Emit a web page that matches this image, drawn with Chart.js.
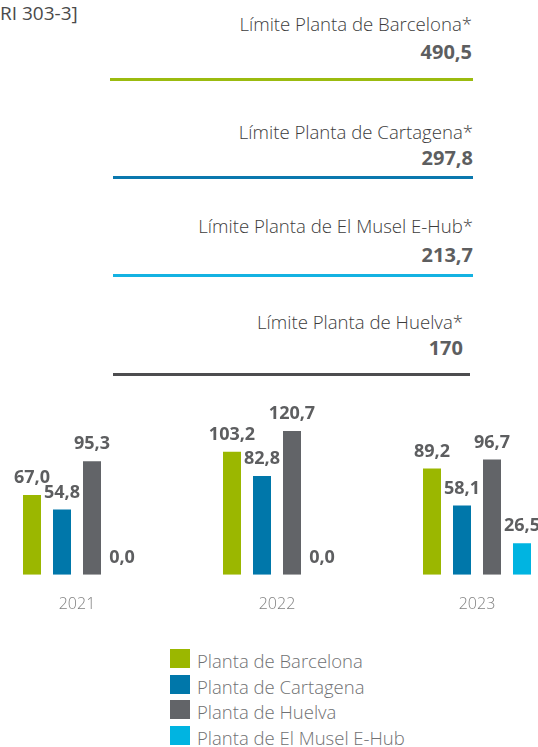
<!DOCTYPE html>
<html>
<head>
<meta charset="utf-8">
<script src="https://cdn.jsdelivr.net/npm/chart.js@4/dist/chart.umd.min.js"></script>
<style>
  html, body { margin: 0; padding: 0; background: #ffffff; }
  body { width: 538px; height: 747px; position: relative; overflow: hidden; font-family: "Open Sans", "DejaVu Sans", sans-serif; }
  .abs { position: absolute; white-space: nowrap; }
  #gri { left: -20px; top: 1px; font-size: 19px; color: #4a4a4a; line-height: 24px; }
  .lim-label { font-size: 18.6px; color: #3c3c3c; line-height: 24px; font-weight: 300; }
  .lim-value { font-size: 20px; color: #5d5e60; line-height: 24px; font-weight: 700; }
  .lim-line { height: 3px; }
  #chartBox { position: absolute; left: -23px; top: 380px; width: 600px; height: 254px; }
  .leg-sq { position: absolute; width: 20px; height: 19px; }
  .leg-tx { position: absolute; font-size: 18.5px; color: #707173; line-height: 24px; font-weight: 300; white-space: nowrap; }
</style>
</head>
<body>
<div id="gri" class="abs">[GRI 303-3]</div>
<div id="limits"></div>
<div id="chartBox"><canvas id="c"></canvas></div>
<div id="legend"></div>
<script>
// ---- data ----
const years = ["2021", "2022", "2023"];
const seriesNames = ["Planta de Barcelona", "Planta de Cartagena", "Planta de Huelva", "Planta de El Musel E-Hub"];
const barcelona = [67.0, 103.2, 89.2];
const cartagena = [54.8, 82.8, 58.1];
const huelva = [95.3, 120.7, 96.7];
const elMusel = [0.0, 0.0, 26.5];
const limitNames = ["Límite Planta de Barcelona*", "Límite Planta de Cartagena*", "Límite Planta de El Musel E-Hub*", "Límite Planta de Huelva*"];
const limitValues = ["490,5", "297,8", "213,7", "170"];

// ---- styles ----
const seriesColors = ["#9bb700", "#0077aa", "#626468", "#00b4e1"];
const limitColors = ["#9bbb0f", "#0a78ae", "#14b2e2", "#4d4d4f"];
const limitLayout = [
  { right: 472, labelY: 24, valueY: 52, lineY: 78, x1: 110, x2: 473 },
  { right: 473, labelY: 132, valueY: 158, lineY: 176, x1: 113, x2: 473 },
  { right: 473, labelY: 226, valueY: 255, lineY: 274, x1: 113, x2: 473 },
  { right: 463, labelY: 322, valueY: 348, lineY: 373, x1: 113, x2: 470 }
];

// limit blocks
const limDiv = document.getElementById('limits');
limitNames.forEach((name, i) => {
  const L = limitLayout[i];
  const lab = document.createElement('div');
  lab.className = 'abs lim-label';
  lab.textContent = name;
  lab.style.right = (538 - L.right) + 'px';
  lab.style.top = (L.labelY - 12) + 'px';
  limDiv.appendChild(lab);
  const val = document.createElement('div');
  val.className = 'abs lim-value';
  val.textContent = limitValues[i];
  val.style.right = (538 - L.right) + 'px';
  val.style.top = (L.valueY - 12) + 'px';
  limDiv.appendChild(val);
  const ln = document.createElement('div');
  ln.className = 'abs lim-line';
  ln.style.left = L.x1 + 'px';
  ln.style.width = (L.x2 - L.x1) + 'px';
  ln.style.top = (L.lineY) + 'px';
  ln.style.background = limitColors[i];
  limDiv.appendChild(ln);
});

// legend
const legDiv = document.getElementById('legend');
seriesNames.forEach((name, i) => {
  const sq = document.createElement('div');
  sq.className = 'leg-sq';
  sq.style.left = '170px';
  sq.style.top = (649 + i * 25.5) + 'px';
  sq.style.background = seriesColors[i];
  legDiv.appendChild(sq);
  const tx = document.createElement('div');
  tx.className = 'leg-tx';
  tx.textContent = name;
  tx.style.left = '197px';
  tx.style.top = (661 + i * 25.5 - 12) + 'px';
  legDiv.appendChild(tx);
});

const fmt = v => v.toFixed(1).replace('.', ',');

const valueLabels = {
  id: 'valueLabels',
  afterDatasetsDraw(chart) {
    const ctx = chart.ctx;
    ctx.save();
    ctx.font = '700 18px "Open Sans", sans-serif';
    ctx.fillStyle = '#5d5e60';
    ctx.textAlign = 'center';
    ctx.textBaseline = 'middle';
    chart.data.datasets.forEach((ds, di) => {
      const meta = chart.getDatasetMeta(di);
      meta.data.forEach((bar, i) => {
        ctx.fillText(fmt(ds.data[i]), bar.x, bar.y - 17);
      });
    });
    ctx.restore();
  }
};

const allSeries = [barcelona, cartagena, huelva, elMusel];
new Chart(document.getElementById('c'), {
  type: 'bar',
  data: {
    labels: years,
    datasets: allSeries.map((d, i) => ({
      label: seriesNames[i],
      data: d,
      backgroundColor: seriesColors[i],
      borderWidth: 0,
      categoryPercentage: 0.6,
      barPercentage: 0.6
    }))
  },
  options: {
    responsive: true,
    maintainAspectRatio: false,
    animation: false,
    layout: { padding: { top: 16, bottom: 0, left: 0, right: 0 } },
    plugins: { legend: { display: false }, tooltip: { enabled: false } },
    scales: {
      x: {
        grid: { display: false, drawTicks: false },
        border: { display: false },
        ticks: { color: '#808080', font: { family: '"Open Sans", sans-serif', size: 16, weight: '300' }, padding: 20 }
      },
      y: {
        display: false,
        min: 0,
        max: 150
      }
    }
  },
  plugins: [valueLabels]
});
</script>
</body>
</html>
